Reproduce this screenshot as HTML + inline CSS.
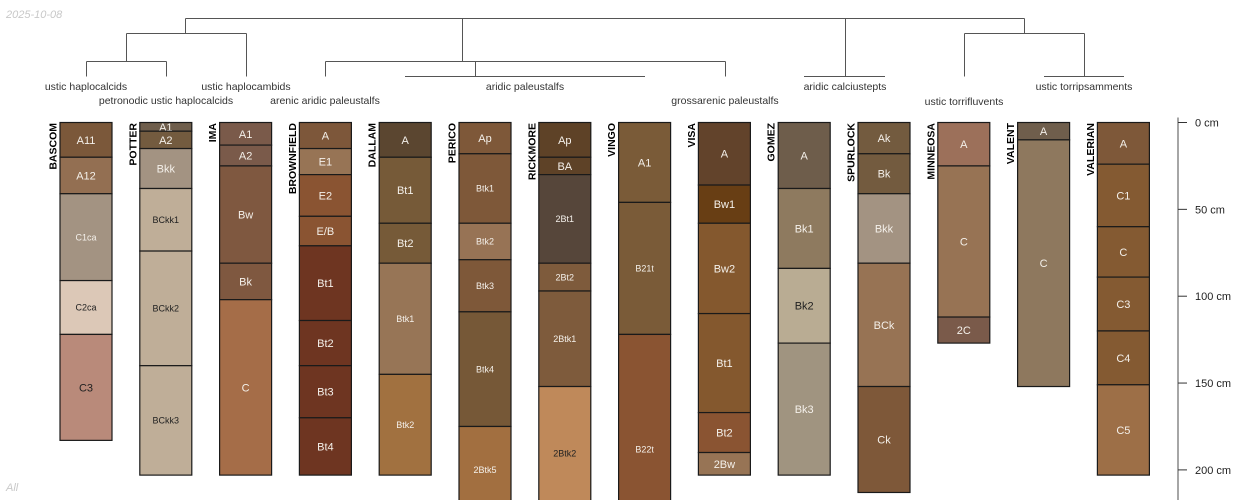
<!DOCTYPE html>
<html><head><meta charset="utf-8">
<style>
html,body{margin:0;padding:0;background:#fff;width:1250px;height:500px;overflow:hidden;}
svg{display:block;font-family:"Liberation Sans",sans-serif;overflow:hidden;}
</style></head>
<body>
<svg id="chart" width="1250" height="500" viewBox="0 0 1250 500" xmlns="http://www.w3.org/2000/svg">
<text x="6" y="18" font-size="11" font-style="italic" fill="#c8c8c8">2025-10-08</text>
<text x="6" y="491" font-size="11" font-style="italic" fill="#c8c8c8">All</text>
<g id="dendro" stroke="#555" stroke-width="1" fill="none">
<path d="M185.5 18.5H1024.5M185.5 18.5V33.5M462.5 18.5V61.5M845.5 18.5V76.5M1024.5 18.5V33.5"/>
<path d="M126.5 33.5H246.5M126.5 33.5V61.5M246.5 33.5V76.5M86.5 61.5H166.5M86.5 61.5V76.5M166.5 61.5V76.5"/>
<path d="M325.5 61.5H725.5M325.5 61.5V76.5M725.5 61.5V76.5M475.5 61.5V76.5M405 76.5H645"/>
<path d="M804 76.5H885M964.5 33.5H1084.5M964.5 33.5V76.5M1084.5 33.5V76.5M1044 76.5H1124"/>
</g>
<g id="taxa" font-size="10.5" fill="#333" text-anchor="middle">
<text x="86" y="90">ustic haplocalcids</text>
<text x="166" y="104">petronodic ustic haplocalcids</text>
<text x="246" y="90">ustic haplocambids</text>
<text x="325" y="104">arenic aridic paleustalfs</text>
<text x="525" y="90">aridic paleustalfs</text>
<text x="725" y="104">grossarenic paleustalfs</text>
<text x="845" y="90">aridic calciustepts</text>
<text x="964" y="105">ustic torrifluvents</text>
<text x="1084" y="90">ustic torripsamments</text>
</g>
<g id="profiles"></g>
<g id="axis"></g>
</svg>
<script>
const profileNames = ["BASCOM","POTTER","IMA","BROWNFIELD","DALLAM","PERICO","RICKMORE","VINGO","VISA","GOMEZ","SPURLOCK","MINNEOSA","VALENT","VALERIAN"];
const horizonNames = [
 ["A11","A12","C1ca","C2ca","C3"],
 ["A1","A2","Bkk","BCkk1","BCkk2","BCkk3"],
 ["A1","A2","Bw","Bk","C"],
 ["A","E1","E2","E/B","Bt1","Bt2","Bt3","Bt4"],
 ["A","Bt1","Bt2","Btk1","Btk2"],
 ["Ap","Btk1","Btk2","Btk3","Btk4","2Btk5"],
 ["Ap","BA","2Bt1","2Bt2","2Btk1","2Btk2"],
 ["A1","B21t","B22t"],
 ["A","Bw1","Bw2","Bt1","Bt2","2Bw"],
 ["A","Bk1","Bk2","Bk3"],
 ["Ak","Bk","Bkk","BCk","Ck"],
 ["A","C","2C"],
 ["A","C"],
 ["A","C1","C","C3","C4","C5"]
];
const horizonDepths = [
 [0,20,41,91,122,183],
 [0,5,15,38,74,140,203],
 [0,13,25,81,102,203],
 [0,15,30,54,71,114,140,170,203],
 [0,20,58,81,145,203],
 [0,18,58,79,109,175,225],
 [0,20,30,81,97,152,229],
 [0,46,122,254],
 [0,36,58,110,167,190,203],
 [0,38,84,127,203],
 [0,18,41,81,152,213],
 [0,25,112,127],
 [0,10,152],
 [0,24,60,89,120,151,203]
];
const horizonColors = [
 ["#7b583a","#936f52","#a39382","#dcc8b7","#b98a7a"],
 ["#6f5e4c","#735b3f","#a39382","#bfae98","#bfae98","#bfae98"],
 ["#7a5a4a","#7a5a4a","#7f5840","#7f5840","#a56d48"],
 ["#7d573a","#977455","#8a5432","#8a5432","#6e3521","#6e3521","#6e3521","#6e3521"],
 ["#5b4630","#765a38","#765a38","#977556","#a17140"],
 ["#7e5839","#7e5839","#977355","#7e5839","#765837","#a26f40"],
 ["#5e4227","#5e4227","#56463a","#7e5b3c","#7e5b3c","#bf895a"],
 ["#7a5b38","#7a5b38","#8a5432"],
 ["#62432b","#683e14","#84582e","#84582e","#8a5432","#977455"],
 ["#6e5d4b","#8e7a5f","#b9ac93","#a09480"],
 ["#735b3f","#735b3f","#a39382","#977354","#7e5839"],
 ["#9c705a","#977354","#7a5a4a"],
 ["#6f5e4c","#8e785e"],
 ["#7e5839","#845a32","#845a32","#845a32","#845a32","#9d6f47"]
];
const darkLabels = ["BASCOM:C2ca","BASCOM:C3","POTTER:BCkk1","POTTER:BCkk2","POTTER:BCkk3","GOMEZ:Bk2","RICKMORE:2Btk2"];
const axisTicks = [0,50,100,150,200];
const tickLabels = ["0 cm","50 cm","100 cm","150 cm","200 cm"];

const NS="http://www.w3.org/2000/svg";
function yScale(d){return 122.5 + d*1.737;}
function xScale(i){return 60 + i*79.8;}
const colW = 52;
function mk(tag, attrs, parent){const e=document.createElementNS(NS,tag);for(const k in attrs)e.setAttribute(k,attrs[k]);parent.appendChild(e);return e;}

const gp=document.getElementById('profiles');
profileNames.forEach((name,i)=>{
  const g=mk('g',{},gp);
  
  
  const x=xScale(i);
  const d=horizonDepths[i];
  horizonNames[i].forEach((h,j)=>{
    const y0=yScale(d[j]), yTrue=yScale(d[j+1]);
    const y1=Math.min(yTrue,502);
    const r=mk('rect',{x:x,y:y0,width:colW,height:y1-y0,fill:horizonColors[i][j],stroke:'#1a1a1a','stroke-width':1.2},g);
    
    
    const fs = h.length>=4 ? 9 : 11;
    const dark = darkLabels.indexOf(name+':'+h)>=0;
    const t=mk('text',{x:x+colW/2,y:(y0+yTrue)/2+fs*0.36,'font-size':fs,'text-anchor':'middle',fill:dark?'#222':'#f4f0ea'},g);
    t.textContent=h;
    
    
  });
  const t=mk('text',{transform:'translate('+(x-3.5)+',123) rotate(-90)','font-size':10.5,'font-weight':'bold','text-anchor':'end',fill:'#000'},g);
  t.textContent=name;
  
  
});

const ga=document.getElementById('axis');


mk('line',{x1:1178,y1:yScale(0)-5,x2:1178,y2:500,stroke:'#777','stroke-width':1.3},ga);
axisTicks.forEach((v,k)=>{
  const y=yScale(v);
  mk('line',{x1:1178,y1:y,x2:1187,y2:y,stroke:'#333','stroke-width':1},ga);
  const t=mk('text',{x:1195,y:y+4,'font-size':11,fill:'#222'},ga);
  t.textContent=tickLabels[k];
  
  
});
</script>
</body></html>
